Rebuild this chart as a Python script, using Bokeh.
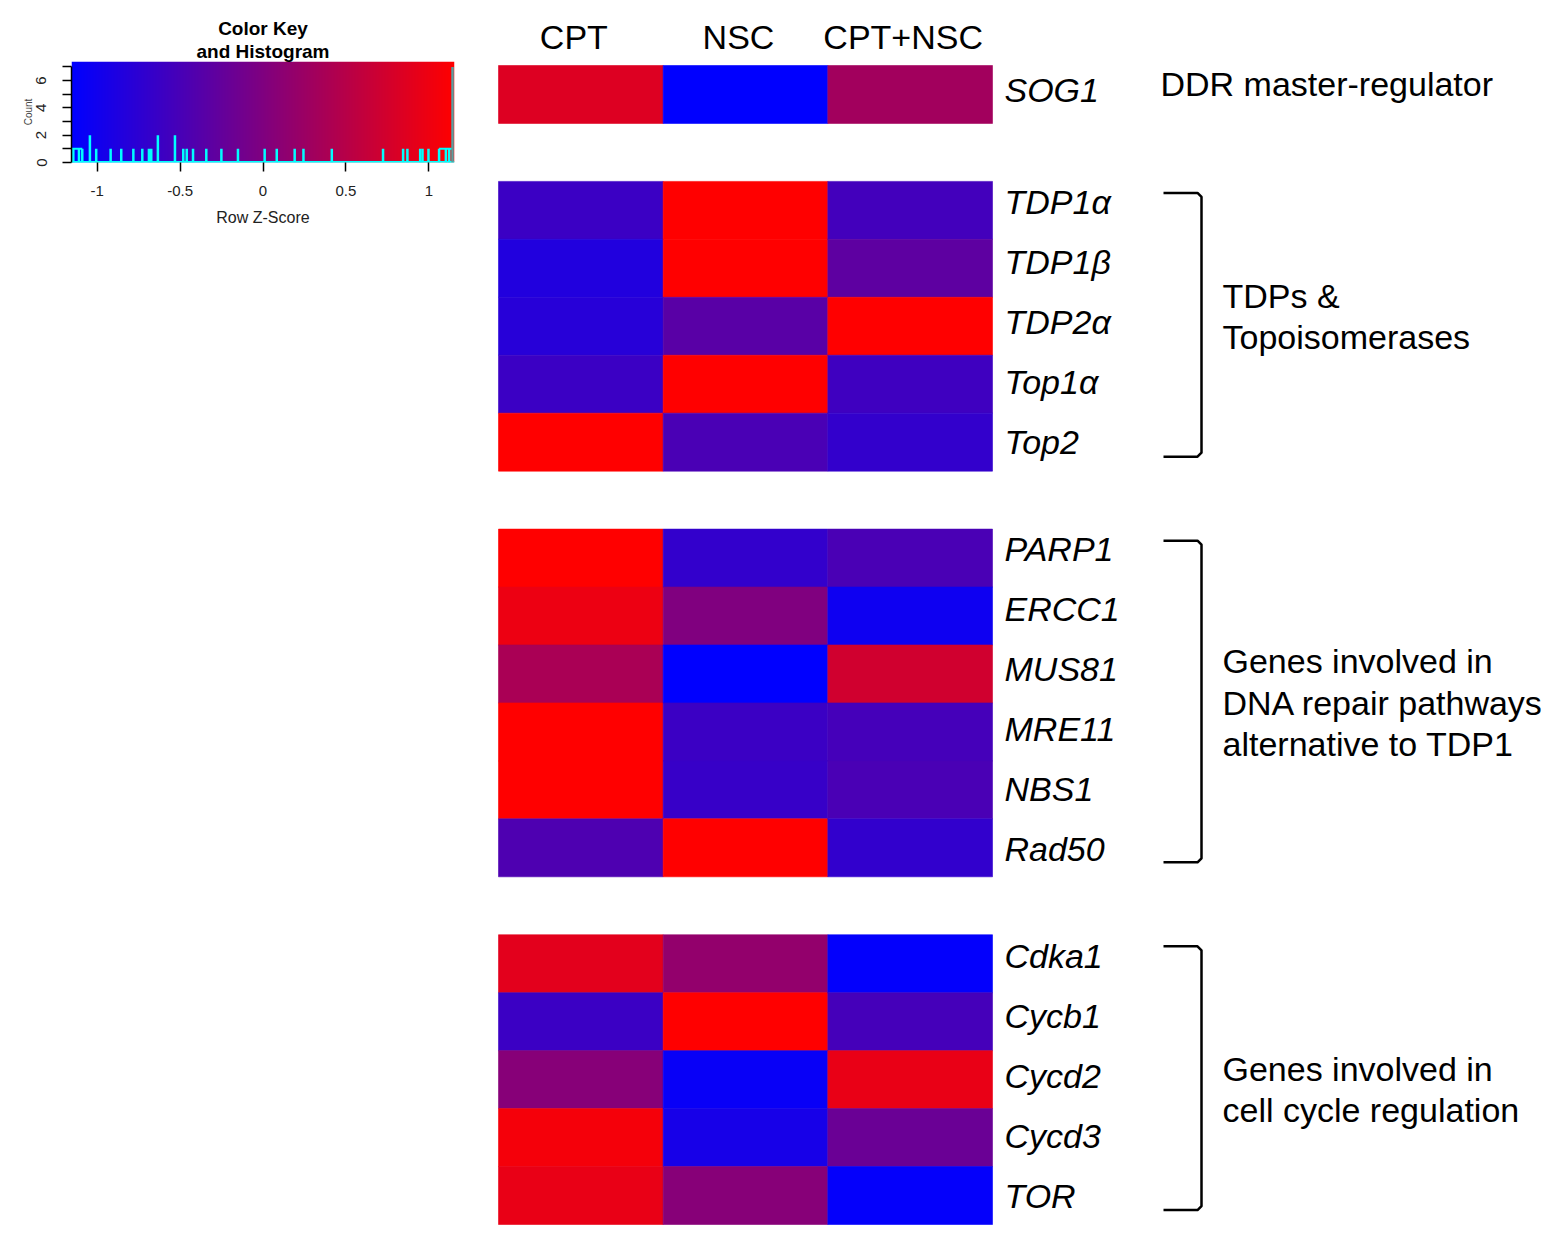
import numpy as np
from bokeh.plotting import figure
from bokeh.models import (Range1d, ColumnDataSource, LinearColorMapper, FixedTicker,
                          Title, Spacer)
from bokeh.layouts import row, column
from bokeh.transform import transform
from bokeh.core.properties import value
from bokeh.embed import file_html
from bokeh.resources import INLINE

# ---------------- data ----------------
conditions = ["CPT", "NSC", "CPT+NSC"]
genes = ["SOG1",
         "TDP1α", "TDP1β", "TDP2α", "Top1α", "Top2",
         "PARP1", "ERCC1", "MUS81", "MRE11", "NBS1", "Rad50",
         "Cdka1", "Cycb1", "Cycd2", "Cycd3", "TOR"]
group_sizes = [1, 5, 6, 5]
group_labels = ["DDR master-regulator",
                "TDPs &\nTopoisomerases",
                "Genes involved in\nDNA repair pathways\nalternative to TDP1",
                "Genes involved in\ncell cycle regulation"]

# row Z-scores
z_cpt     = [0.84, -0.62, -0.85, -0.80, -0.62, 1.15, 1.15, 0.99, 0.38, 1.15, 1.15, -0.45, 0.90, -0.62, 0.07, 1.06, 0.95]
z_nsc     = [-1.15, 1.15, 1.15, -0.35, 1.15, -0.48, -0.69, 0.00, -1.15, -0.62, -0.65, 1.15, 0.18, 1.15, -1.08, -0.94, 0.07]
z_cpt_nsc = [0.31, -0.55, -0.30, 1.15, -0.58, -0.69, -0.48, -1.02, 0.73, -0.53, -0.48, -0.70, -1.12, -0.53, 0.95, -0.19, -1.11]

# colour-key histogram (bin position in Z, count)
hist_z = [-1.144, -1.110, -1.090, -1.044, -1.006, -0.919, -0.855, -0.782, -0.728, -0.688,
          -0.674, -0.634, -0.531, -0.481, -0.460, -0.422, -0.342, -0.251, -0.151, 0.010,
          0.083, 0.191, 0.244, 0.415, 0.724, 0.845, 0.871, 0.948, 0.962, 0.998,
          1.062, 1.103, 1.123, 1.143]
hist_count = [1, 1, 1, 2, 1, 1, 1, 1, 1, 1,
              1, 2, 2, 1, 1, 1, 1, 1, 1, 1,
              1, 1, 1, 1, 1, 1, 1, 1, 1, 1,
              1, 1, 1, 7]

key_x_ticks = [-1, -0.5, 0, 0.5, 1]
key_x_tick_labels = ["-1", "-0.5", "0", "0.5", "1"]
key_y_ticks = [0, 1, 2, 3, 4, 5, 6, 7]
key_y_tick_labels = ["0", "", "2", "", "4", "", "6", ""]
z_low, z_high = -1.155, 1.155
count_top = 7.4

# ---------------- styles ----------------
FONT = "Liberation Sans"
palette = ["#%02x%02x%02x" % (int(round(255 * i / 255)), 0, int(round(255 * (1 - i / 255))))
           for i in range(256)]
mapper = LinearColorMapper(palette=palette, low=z_low, high=z_high)
GROUP_LABEL_NUDGE = [0, -10, 0, 10]   # vertical nudge of each group caption (px)

# ---------------- colour key figure ----------------
KEY_W, KEY_H = 490, 232
key = figure(width=KEY_W, height=KEY_H, x_range=Range1d(z_low, z_high),
             y_range=Range1d(0, count_top), output_backend="svg", toolbar_location=None,
             min_border_left=71, min_border_right=36, min_border_top=61, min_border_bottom=70,
             title="Color Key")
key.xgrid.grid_line_color = None
key.ygrid.grid_line_color = None
key.outline_line_color = None
key.background_fill_color = "white"
key.title.align = "center"
key.title.text_font = FONT
key.title.text_font_size = "19px"
key.title.text_font_style = "bold"
key.title.text_color = "black"
key.title.standoff = 0
key.add_layout(Title(text="and Histogram", align="center", text_font=FONT, text_font_size="19px",
                     text_font_style="bold", text_color="black", standoff=0), "above")

# colour gradient (colour key)
key_levels = np.linspace(z_low, z_high, len(palette)).reshape(1, -1)
key.image(image=[key_levels], x=z_low, y=0, dw=z_high - z_low, dh=count_top,
          color_mapper=mapper)

# histogram
key.segment(x0=z_low, y0=0.02, x1=z_high, y1=0.02, line_color="#00FFFF", line_width=2.5)
hsrc = ColumnDataSource(dict(x=hist_z[:-1], c=hist_count[:-1]))
key.segment(x0="x", y0=0, x1="x", y1="c", line_color="#00FFFF", line_width=2.5, source=hsrc)
key.segment(x0=hist_z[0] - 0.012, y0=1, x1=hist_z[2], y1=1, line_color="#00FFFF", line_width=2)
key.segment(x0=hist_z[-4], y0=1, x1=hist_z[-1], y1=1, line_color="#00FFFF", line_width=2)
tsrc = ColumnDataSource(dict(x=hist_z[-1:], c=hist_count[-1:]))
key.segment(x0="x", y0=0, x1="x", y1="c", line_color="#5aa0a0", line_width=2.5, source=tsrc)

xa = key.xaxis[0]
xa.ticker = FixedTicker(ticks=key_x_ticks)
xa.major_label_overrides = {t: l for t, l in zip(key_x_ticks, key_x_tick_labels)}
xa.minor_tick_line_color = None
xa.major_tick_in = 0
xa.major_tick_out = 9
xa.major_tick_line_width = 1.5
xa.axis_line_color = None
xa.major_label_standoff = 14
xa.major_label_text_font = FONT
xa.major_label_text_font_size = "15px"
xa.major_label_text_color = "#222222"
xa.axis_label = "Row Z-Score"
xa.axis_label_text_font = FONT
xa.axis_label_text_font_size = "16px"
xa.axis_label_text_font_style = "normal"
xa.axis_label_text_color = "#222222"
xa.axis_label_standoff = 10

ya = key.yaxis[0]
ya.ticker = FixedTicker(ticks=key_y_ticks)
ya.major_label_overrides = {t: l for t, l in zip(key_y_ticks, key_y_tick_labels)}
ya.minor_tick_line_color = None
ya.major_tick_in = 0
ya.major_tick_out = 9
ya.major_tick_line_width = 1.5
ya.axis_line_width = 1.5
ya.bounds = (0, 7)
ya.major_label_orientation = "vertical"
ya.major_label_standoff = 16
ya.major_label_text_font = FONT
ya.major_label_text_font_size = "15px"
ya.major_label_text_color = "#222222"
ya.axis_label = "Count"
ya.axis_label_text_font = FONT
ya.axis_label_text_font_size = "10px"
ya.axis_label_text_font_style = "normal"
ya.axis_label_standoff = 0

# ---------------- heatmap figure ----------------
X0, X1 = 490, 1545          # canvas span (image px)
Y0, Y1 = 0, 1232
HM_LEFT, HM_RIGHT = 498, 992
HM_TOP, HM_BOTTOM = 65, 1224

p = figure(width=X1 - X0, height=Y1 - Y0, x_range=Range1d(X0, X1), y_range=Range1d(Y1, Y0),
           output_backend="svg", toolbar_location=None, min_border=0,
           x_axis_location=None, y_axis_location=None)
p.xgrid.grid_line_color = None
p.ygrid.grid_line_color = None
p.outline_line_color = None

n_slots = sum(group_sizes) + len(group_sizes) - 1
rh = (HM_BOTTOM - HM_TOP) / n_slots
cw = (HM_RIGHT - HM_LEFT) / len(conditions)
LABEL_STEP = 60            # label spacing inside a group (slightly wider than rows)

slots, label_y = [], []
group_first, group_last = [], []
s = 0
for gsize in group_sizes:
    group_first.append(s)
    gc = HM_TOP + (s + gsize / 2) * rh
    for i in range(gsize):
        slots.append(s)
        label_y.append(gc + (i - (gsize - 1) / 2) * LABEL_STEP - 4)
        s += 1
    group_last.append(s - 1)
    s += 1

zcols = [z_cpt, z_nsc, z_cpt_nsc]
L, R, T, B, Z = [], [], [], [], []
for ci, zc in enumerate(zcols):
    for gi, slot in enumerate(slots):
        L.append(HM_LEFT + ci * cw)
        R.append(HM_LEFT + (ci + 1) * cw)
        T.append(HM_TOP + slot * rh)
        B.append(HM_TOP + (slot + 1) * rh)
        Z.append(zc[gi])
cells = ColumnDataSource(dict(left=L, right=R, top=T, bottom=B, z=Z))
p.quad(left="left", right="right", top="top", bottom="bottom", source=cells,
       fill_color=transform("z", mapper), line_color=transform("z", mapper), line_width=0.6)

# column labels
p.text(x=[HM_LEFT + (i + 0.5) * cw - 7 for i in range(len(conditions))],
       y=[HM_TOP - 0.5 * rh] * len(conditions), text=conditions,
       text_font=value(FONT), text_font_size="34px", text_align="center",
       text_baseline="middle", text_color="black")

# gene labels
p.text(x=[HM_RIGHT + 12] * len(genes), y=label_y,
       text=genes, text_font=value(FONT), text_font_style="italic", text_font_size="34px",
       text_align="left", text_baseline="middle", text_color="black")

# group labels and brackets
LINE_H = 41.5
gx, gy, gt = [], [], []
bxs, bys = [], []
for gi, lab in enumerate(group_labels):
    lines = lab.split("\n")
    if group_sizes[gi] == 1:
        cx = 1160
        cy = HM_TOP + (group_first[gi] + 0.5) * rh - 10
    else:
        cx = 1222
        cy = HM_TOP + (group_first[gi] + group_last[gi] + 1) / 2 * rh + GROUP_LABEL_NUDGE[gi]
        top = HM_TOP + (group_first[gi] + 0.2) * rh
        bot = HM_TOP + (group_last[gi] + 0.75) * rh
        bxs.append([1163, 1197, 1201, 1201, 1197, 1163])
        bys.append([top, top, top + 4, bot - 4, bot, bot])
    for li, t in enumerate(lines):
        gx.append(cx)
        gy.append(cy + (li - (len(lines) - 1) / 2) * LINE_H)
        gt.append(t)
p.text(x=gx, y=gy, text=gt, text_font=value(FONT), text_font_size="34px",
       text_align="left", text_baseline="middle", text_color="black")
p.multi_line(xs=bxs, ys=bys, line_color="black", line_width=2.5, line_join="round")

layout = row(column(key, Spacer(width=KEY_W, height=(Y1 - Y0) - KEY_H)), p)
open("out.html", "w").write(file_html(layout, INLINE))
